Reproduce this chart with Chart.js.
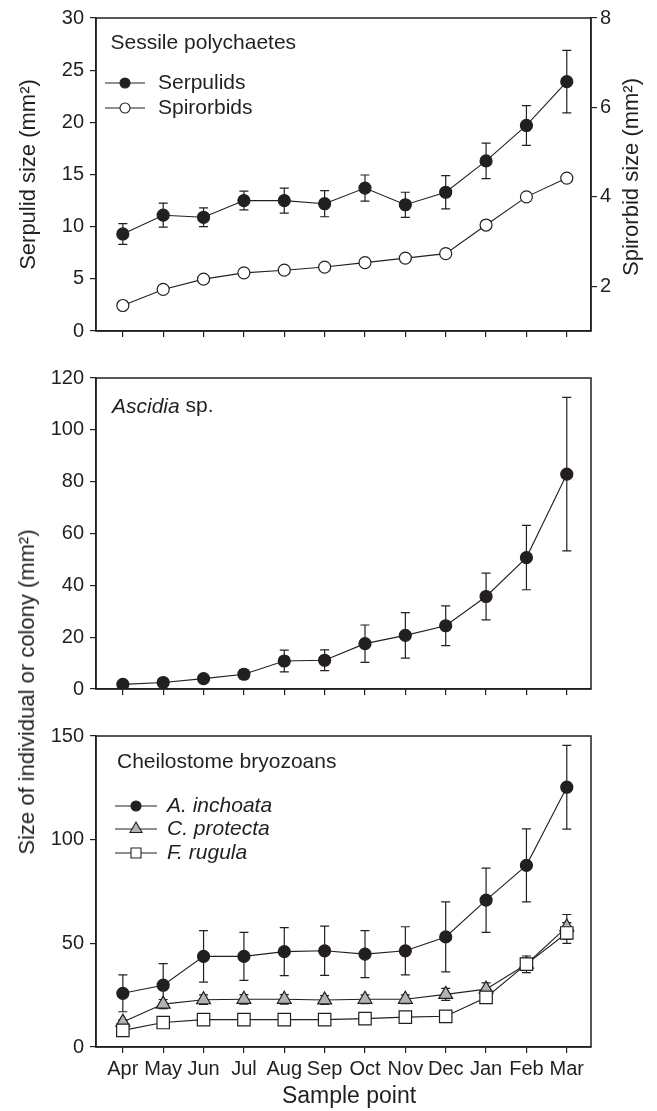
<!DOCTYPE html>
<html>
<head>
<meta charset="utf-8">
<script src="https://cdn.jsdelivr.net/npm/chart.js@4.4.0/dist/chart.umd.min.js"></script>
<style>
  body { margin: 0; background: #fff; width: 657px; height: 1111px; position: relative; overflow: hidden; }
  .panel { position: absolute; left: 0; width: 657px; }
  #sharedTitle {
    position: absolute; left: 26.5px; top: 692px;
    transform: translate(-50%, -50%) rotate(-90deg);
    white-space: nowrap; font: 22px "Liberation Sans", Arial, sans-serif; color: #231f20;
  }
</style>
</head>
<body>
<div class="panel" style="top:0;height:360px"><canvas id="c1"></canvas></div>
<div class="panel" style="top:360px;height:358px"><canvas id="c2"></canvas></div>
<div class="panel" style="top:718px;height:393px"><canvas id="c3"></canvas></div>
<div id="sharedTitle">Size of individual or colony (mm²)</div>

<script>
const months = ["Apr", "May", "Jun", "Jul", "Aug", "Sep", "Oct", "Nov", "Dec", "Jan", "Feb", "Mar"];

// sessile polychaetes
const serpulids = [9.3, 11.1, 10.9, 12.5, 12.5, 12.2, 13.7, 12.1, 13.3, 16.3, 19.7, 23.9];
const serpulidsErr = [1.0, 1.15, 0.9, 0.9, 1.2, 1.25, 1.25, 1.2, 1.6, 1.7, 1.9, 3.0];
const spirorbids = [1.57, 1.93, 2.16, 2.3, 2.36, 2.43, 2.53, 2.63, 2.73, 3.37, 4.0, 4.42];
const spirorbidsErr = [0.03, 0.03, 0.03, 0.03, 0.03, 0.03, 0.03, 0.03, 0.04, 0.05, 0.05, 0.05];
const spirorbidTicks = [2, 4, 6, 8];

// ascidians
const ascidia = [1.8, 2.5, 4.0, 5.7, 10.8, 11.1, 17.5, 20.7, 24.4, 35.7, 50.7, 82.9];
const ascidiaErr = [0.6, 0.8, 1.2, 1.8, 4.2, 4.0, 7.2, 8.8, 7.7, 9.0, 12.4, 29.6];

// bryozoans
const inchoata = [25.9, 29.8, 43.7, 43.7, 46.0, 46.4, 44.8, 46.4, 53.1, 70.8, 87.6, 125.3];
const inchoataErr = [8.9, 10.4, 12.4, 11.6, 11.6, 11.9, 11.3, 11.6, 16.9, 15.5, 17.6, 20.2];
const protecta = [12.0, 20.7, 22.8, 23.0, 23.0, 22.7, 23.0, 23.0, 25.4, 27.9, 39.9, 57.9];
const protectaErr = [1.2, 2.2, 2.3, 2.3, 2.3, 2.1, 2.1, 2.1, 2.9, 3.0, 4.0, 6.0];
const rugula = [8.0, 11.8, 13.2, 13.2, 13.2, 13.2, 13.7, 14.4, 14.8, 23.9, 40.0, 55.0];
const rugulaErr = [1.6, 1.0, 1.0, 0.8, 0.8, 0.8, 0.8, 0.8, 0.8, 2.3, 2.8, 5.0];

const font = '"Liberation Sans", Arial, sans-serif';
const ink = "#231f20";

function marker(ctx, style, x, y, r, fill) {
  ctx.beginPath();
  if (style === "rect") {
    ctx.rect(x - r, y - r, 2 * r, 2 * r);
  } else if (style === "triangle") {
    ctx.moveTo(x, y - r);
    ctx.lineTo(x + r * 0.866, y + r / 2);
    ctx.lineTo(x - r * 0.866, y + r / 2);
    ctx.closePath();
  } else {
    ctx.arc(x, y, r, 0, Math.PI * 2);
  }
  ctx.fillStyle = fill;
  ctx.fill();
  ctx.stroke();
}

const frame = {
  id: "frame",
  afterDraw(chart) {
    const { ctx, chartArea: a } = chart;
    ctx.save();
    ctx.strokeStyle = ink;
    ctx.lineWidth = 1.5;
    ctx.strokeRect(a.left, a.top, a.right - a.left, a.bottom - a.top);
    ctx.restore();
  },
};

const errorBars = {
  id: "errorBars",
  beforeDatasetsDraw(chart) {
    const { ctx } = chart;
    const xs = chart.scales.x;
    chart.data.datasets.forEach((ds) => {
      if (!ds.errors) return;
      const ys = chart.scales[ds.yAxisID];
      ctx.save();
      ctx.strokeStyle = ink;
      ctx.lineWidth = 1.2;
      ds.data.forEach((p, i) => {
        const e = ds.errors[i];
        const px = xs.getPixelForValue(p.x);
        const top = ys.getPixelForValue(p.y + e);
        const bot = ys.getPixelForValue(p.y - e);
        ctx.beginPath();
        ctx.moveTo(px, top); ctx.lineTo(px, bot);
        ctx.moveTo(px - 4.5, top); ctx.lineTo(px + 4.5, top);
        ctx.moveTo(px - 4.5, bot); ctx.lineTo(px + 4.5, bot);
        ctx.stroke();
      });
      ctx.restore();
    });
  },
};

// in-panel captions, keys and rotated titles
const notes = {
  id: "notes",
  afterDraw(chart, args, opts) {
    const { ctx, chartArea: a } = chart;
    ctx.save();
    ctx.fillStyle = ink;
    ctx.strokeStyle = ink;
    ctx.textBaseline = "middle";
    (opts.texts || []).forEach((t) => {
      ctx.save();
      ctx.translate(t.x, t.y);
      if (t.rotate) ctx.rotate(t.rotate);
      const fonts = t.parts.map((s) => (s.italic ? "italic " : "") + t.size + "px " + font);
      const widths = t.parts.map((s, k) => { ctx.font = fonts[k]; return ctx.measureText(s.text).width; });
      const total = widths.reduce((sum, w) => sum + w, 0);
      let cx = t.center ? -total / 2 : 0;
      ctx.textAlign = "left";
      t.parts.forEach((s, k) => {
        ctx.font = fonts[k];
        ctx.fillText(s.text, cx, 0);
        cx += widths[k];
      });
      ctx.restore();
    });
    (opts.keys || []).forEach((k) => {
      const ds = chart.data.datasets[k.index];
      const y = a.top + k.dy;
      const x0 = a.left + opts.keyX;
      ctx.lineWidth = 1.1;
      ctx.beginPath();
      ctx.moveTo(x0, y);
      ctx.lineTo(x0 + opts.keyLen, y);
      ctx.stroke();
      marker(ctx, ds.pointStyle, x0 + opts.keyLen / 2, y, k.r, ds.pointBackgroundColor);
      ctx.fillStyle = ink;
      ctx.font = (opts.keyItalic ? "italic " : "") + "21px " + font;
      ctx.fillText(ds.label, a.left + opts.keyText, y);
    });
    ctx.restore();
  },
};

function series(label, vals, errs, style, fill, radius, yAxisID, order) {
  return {
    label,
    data: vals.map((v, i) => ({ x: i, y: v })),
    errors: errs,
    yAxisID,
    order,
    borderColor: ink,
    borderWidth: 1.1,
    pointStyle: style,
    pointRadius: radius,
    pointHoverRadius: radius,
    pointBackgroundColor: fill,
    pointBorderColor: ink,
    pointBorderWidth: 1.2,
    tension: 0,
    fill: false,
  };
}

function xAxis(showLabels, height) {
  return {
    type: "linear",
    min: -0.665,
    max: 11.6,
    afterBuildTicks: (s) => { s.ticks = months.map((m, i) => ({ value: i })); },
    afterFit: (s) => { s.height = height; },
    ticks: {
      display: showLabels,
      callback: (v) => months[v],
      font: { family: font, size: 20 },
      color: ink,
      padding: 4,
      maxRotation: 0,
      autoSkip: false,
    },
    grid: { drawOnChartArea: false, drawTicks: true, tickLength: 6, tickColor: ink, lineWidth: 1.2 },
    border: { display: true, color: ink, width: 1.5 },
  };
}

function yAxis(min, max, step, position, width, extra) {
  return Object.assign({
    type: "linear",
    position,
    min,
    max,
    ticks: { stepSize: step, font: { family: font, size: 20 }, color: ink, padding: position === "left" ? 6 : 3 },
    grid: { drawOnChartArea: false, drawTicks: true, tickLength: 6, tickColor: ink, lineWidth: 1.2 },
    border: { display: true, color: ink, width: 1.5 },
    afterFit: (s) => { s.width = width; },
  }, extra);
}

function baseOptions(padTop, padRight, notesOpts, scales) {
  return {
    responsive: true,
    maintainAspectRatio: false,
    animation: false,
    layout: { padding: { top: padTop, right: padRight, bottom: 0, left: 0 } },
    plugins: { legend: { display: false }, tooltip: { enabled: false }, notes: notesOpts },
    scales,
  };
}

// panel 1: sessile polychaetes
new Chart(document.getElementById("c1"), {
  type: "line",
  data: {
    datasets: [
      series("Serpulids", serpulids, serpulidsErr, "circle", ink, 6, "y", 0),
      series("Spirorbids", spirorbids, spirorbidsErr, "circle", "#fff", 6, "y2", 1),
    ],
  },
  options: baseOptions(17, 0, {
    texts: [
      { x: 110.5, y: 43, size: 21, parts: [{ text: "Sessile polychaetes" }] },
      { x: 632, y: 177, size: 22, rotate: -Math.PI / 2, center: true, parts: [{ text: "Spirorbid size (mm²)" }] },
    ],
    keyX: 9, keyLen: 40, keyText: 62,
    keys: [{ index: 0, dy: 65, r: 5 }, { index: 1, dy: 90, r: 5 }],
  }, {
    x: xAxis(false, 29),
    y: yAxis(0, 30, 5, "left", 96, {
      title: { display: true, text: "Serpulid size (mm²)", font: { family: font, size: 22 }, color: ink, padding: { top: 16, bottom: 0 } },
    }),
    y2: yAxis(1, 8, 2, "right", 66, {
      afterBuildTicks: (s) => { s.ticks = spirorbidTicks.map((v) => ({ value: v })); },
    }),
  }),
  plugins: [frame, errorBars, notes],
});

// panel 2: Ascidia sp.
new Chart(document.getElementById("c2"), {
  type: "line",
  data: { datasets: [series("Ascidia sp.", ascidia, ascidiaErr, "circle", ink, 6, "y", 0)] },
  options: baseOptions(16, 66, {
    texts: [{ x: 112, y: 46.7, size: 21, parts: [{ text: "Ascidia", italic: true }, { text: " sp." }] }],
  }, {
    x: xAxis(false, 29),
    y: yAxis(0, 120, 20, "left", 96),
  }),
  plugins: [frame, errorBars, notes],
});

// panel 3: cheilostome bryozoans
new Chart(document.getElementById("c3"), {
  type: "line",
  data: {
    datasets: [
      series("A. inchoata", inchoata, inchoataErr, "circle", ink, 6, "y", 0),
      series("C. protecta", protecta, protectaErr, "triangle", "#b3b3b3", 8, "y", 2),
      series("F. rugula", rugula, rugulaErr, "rect", "#fff", 8.8, "y", 1),
    ],
  },
  options: baseOptions(16, 66, {
    texts: [
      { x: 117, y: 44, size: 21, parts: [{ text: "Cheilostome bryozoans" }] },
      { x: 349, y: 379, size: 23, center: true, parts: [{ text: "Sample point" }] },
    ],
    keyX: 19, keyLen: 42, keyText: 71, keyItalic: true,
    keys: [{ index: 0, dy: 70, r: 5 }, { index: 1, dy: 93, r: 7 }, { index: 2, dy: 117, r: 5 }],
  }, {
    x: xAxis(true, 64),
    y: yAxis(0, 150, 50, "left", 96),
  }),
  plugins: [frame, errorBars, notes],
});
</script>
</body>
</html>
